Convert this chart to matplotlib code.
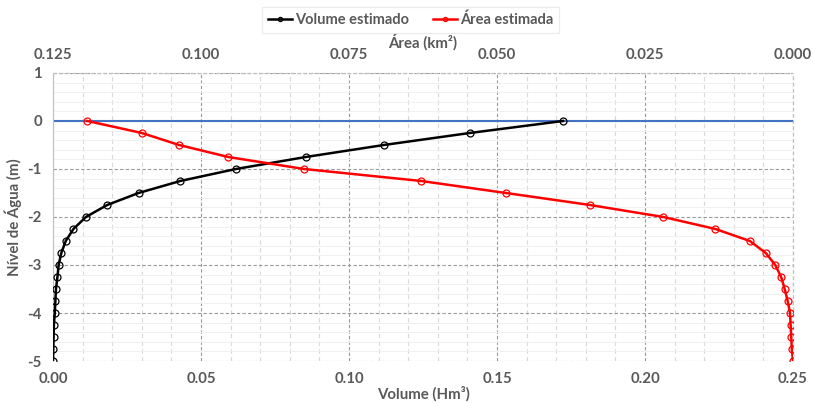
import matplotlib
matplotlib.use("Agg")
import matplotlib.pyplot as plt
from matplotlib.ticker import MultipleLocator

plt.rcParams['font.family'] = ['Lato', 'DejaVu Sans']
plt.rcParams['axes.unicode_minus'] = False

# Water level (m)
nivel = [0.0, -0.25, -0.5, -0.75, -1.0, -1.25, -1.5, -1.75, -2.0, -2.25, -2.5,
         -2.75, -3.0, -3.25, -3.5, -3.75, -4.0, -4.25, -4.5, -4.75, -5.0]

# Estimated volume (Hm³)
volume = [0.1723, 0.1408, 0.1118, 0.0854, 0.0618, 0.0430, 0.0289, 0.0183, 0.0111,
          0.0069, 0.0043, 0.0028, 0.0019, 0.0015, 0.0010, 0.0008, 0.0006, 0.0003,
          0.0002, 0.0001, 0.0000]

# Estimated area (km²)
area = [0.1192, 0.1100, 0.1037, 0.0954, 0.0826, 0.0628, 0.0485, 0.0343, 0.0219,
        0.0131, 0.0073, 0.0046, 0.0030, 0.0020, 0.0014, 0.0009, 0.0005, 0.0004,
        0.0003, 0.0002, 0.0000]

vol_ticks = [0.00, 0.05, 0.10, 0.15, 0.20, 0.25]
area_ticks = [0.125, 0.100, 0.075, 0.050, 0.025, 0.000]
nivel_ticks = [1, 0, -1, -2, -3, -4, -5]

txt = '#595959'
fs = 10.8

fig = plt.figure(figsize=(8.13, 4.03), dpi=100)
ax = fig.add_axes([0.0652, 0.1042, 0.9102, 0.7147])

ax.set_xlim(0, 0.25)
ax.set_ylim(-5, 1)
ax.set_xticks(vol_ticks)
ax.set_xticklabels([f'{v:.2f}' for v in vol_ticks])
ax.set_yticks(nivel_ticks)
ax.xaxis.set_minor_locator(MultipleLocator(0.01))
ax.yaxis.set_minor_locator(MultipleLocator(0.2))

ax.grid(which='major', axis='both', color='#999999', linestyle=(0, (3, 2)), linewidth=0.8)
ax.grid(which='minor', axis='x', color='#d9d9d9', linestyle=(0, (4, 3)), linewidth=0.8)
ax.grid(which='minor', axis='y', color='#f0f0f0', linestyle='-', linewidth=0.7)
ax.set_axisbelow(True)

for s in ['top', 'right', 'bottom']:
    ax.spines[s].set_visible(False)
ax.spines['left'].set_color('#bfbfbf')
ax.tick_params(which='both', length=0)
ax.tick_params(axis='x', labelsize=fs, labelcolor=txt, pad=8)
ax.tick_params(axis='y', labelsize=fs, labelcolor=txt, pad=8)
for lbl in ax.get_xticklabels() + ax.get_yticklabels():
    lbl.set_fontweight('bold')

ax.axhline(0, color='#4472c4', linewidth=1.5, zorder=2)

l1, = ax.plot(volume, nivel, color='black', linewidth=1.8, marker='o',
              markersize=5, markerfacecolor='none', markeredgewidth=0.9, zorder=4)

ax.set_xlabel('Volume (Hm³)', fontsize=fs, fontweight='bold', color=txt, labelpad=0)
ax.set_ylabel('Nível de Água (m)', fontsize=fs, fontweight='bold', color=txt, labelpad=4)

ax2 = ax.twiny()
ax2.set_xlim(0.125, 0.0)
ax2.set_xticks(area_ticks)
ax2.set_xticklabels([f'{v:.3f}' for v in area_ticks])
for s in ['top', 'right', 'bottom', 'left']:
    ax2.spines[s].set_visible(False)
ax2.tick_params(which='both', length=0, labelsize=fs, labelcolor=txt, pad=8)
for lbl in ax2.get_xticklabels():
    lbl.set_fontweight('bold')
l2, = ax2.plot(area, nivel, color='red', linewidth=1.8, marker='o',
               markersize=5, markerfacecolor='none', markeredgewidth=0.9, zorder=4)
ax2.set_xlabel('Área (km²)', fontsize=fs, fontweight='bold', color=txt, labelpad=0)

# dashed frame on top and right edges
ax.plot([0, 0.25], [1, 1], color='#bfbfbf', linestyle=(0, (3, 2)), linewidth=0.9,
        clip_on=False, zorder=1)
ax.plot([0.25, 0.25], [-5, 1], color='#bfbfbf', linestyle=(0, (3, 2)), linewidth=0.9,
        clip_on=False, zorder=1)

leg = fig.legend([l1, l2], ['Volume estimado', 'Área estimada'], loc='center',
                 bbox_to_anchor=(0.505, 0.951), ncol=2, frameon=True, fontsize=10.5,
                 handlelength=1.7, handletextpad=0.2, columnspacing=1.6,
                 fancybox=False, borderpad=0.4, borderaxespad=0,
                 markerscale=0.6)
leg.get_frame().set_edgecolor('#e6e6e6')
leg.get_frame().set_linewidth(0.8)
for t in leg.get_texts():
    t.set_color(txt)
    t.set_fontweight('bold')

fig.savefig('out.png', dpi=100)
